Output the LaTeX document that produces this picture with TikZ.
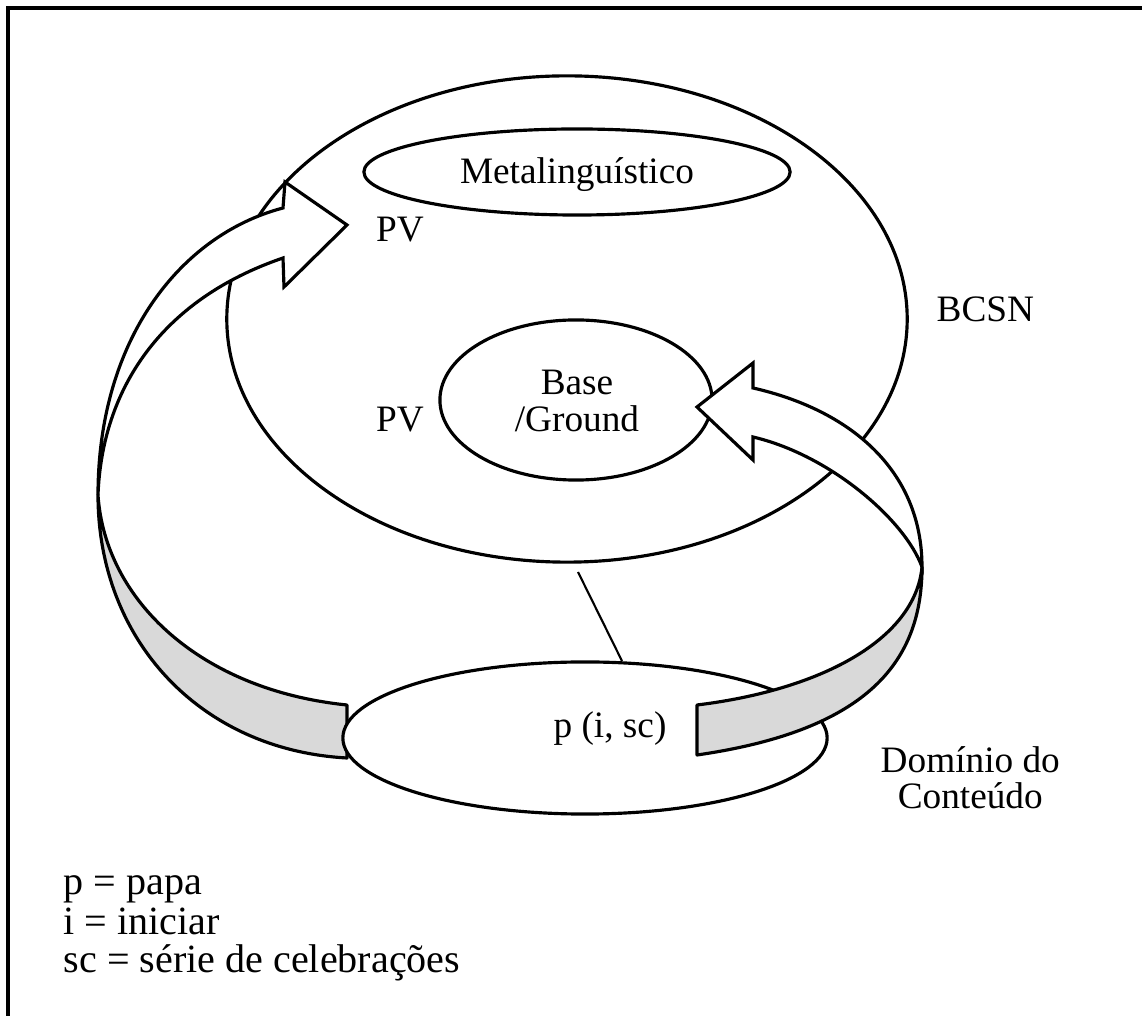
\documentclass[tikz,border=0pt]{standalone}
\usepackage{fontspec}
\setmainfont{Liberation Serif}
\usetikzlibrary{shapes.geometric}
\definecolor{ribbongray}{RGB}{217,217,217}
\begin{document}
\begin{tikzpicture}[x=0.01cm,y=-0.01cm,
  outline/.style={draw=black,line width=0.9pt},
  region/.style={ellipse,outline,fill=white,inner sep=0pt},
  lbl/.style={font=\fontsize{10.6}{11}\selectfont,inner sep=0pt,anchor=base},
  legend/.style={font=\fontsize{11.4}{12}\selectfont,inner sep=0pt,anchor=base west},
  ribbonback/.style={outline,fill=ribbongray,line join=round},
  ribbonfront/.style={outline,fill=white,line join=miter},
  link/.style={draw=black,line width=0.6pt}]
\useasboundingbox (0,0) rectangle (1142,1016);
\fill[white] (0,0) rectangle (1142,1016);
% frame (open to the right and below)
\draw[line width=0.9pt] (8,1030) -- (8,8) -- (1160,8);

% knowledge base with its two inner regions
\node[region, minimum width=6.80cm, minimum height=4.86cm] (bcsn) at (567,319) {};
\node[region, minimum width=4.26cm, minimum height=0.86cm] (meta) at (577,172) {};
\node[region, minimum width=2.72cm, minimum height=1.60cm] (base) at (576,400) {};

% back face of the left ribbon
\draw[ribbonback] (98,495) .. controls (98,640) and (200,750) .. (347,758)
  -- (347,705) .. controls (200,690) and (105,600) .. (98,495) -- cycle;

% content domain
\node[region, minimum width=4.84cm, minimum height=1.52cm] (dom) at (585,738) {};

% back face of the right ribbon
\draw[ribbonback] (922,567) .. controls (922,660) and (870,730) .. (697,755)
  -- (697,705) .. controls (820,690) and (915,640) .. (922,567) -- cycle;

% front face of the left ribbon, ending in an arrow head
\draw[ribbonfront] (98,495) .. controls (98,340) and (180,235) .. (283,208)
  -- (285,182) -- (347,225) -- (284,287) -- (283,258)
  .. controls (160,300) and (102,390) .. (98,495) -- cycle;

% front face of the right ribbon, ending in an arrow head
\draw[ribbonfront] (922,567) .. controls (922,470) and (850,410) .. (753,388)
  -- (753,363) -- (697,407) -- (753,460) -- (753,437)
  .. controls (830,455) and (905,520) .. (922,567) -- cycle;

% link between the base and the domain
\coordinate (linkTop) at (578,572);
\coordinate (linkEnd) at (622,661);
\draw[link] (linkTop) -- (linkEnd);

% labels
\node[lbl] (metaTxt) at (577,184) {Metalinguístico};
\node[lbl] (pvTop) at (400,242) {PV};
\node[lbl] (pvLow) at (400,432) {PV};
\node[lbl] (baseTxt) at (577,395) {Base};
\node[lbl] (groundTxt) at (577,432) {/Ground};
\node[lbl] (pTxt) at (610,738) {p (i, sc)};
\node[lbl, anchor=base west] (bcsnTxt) at (936,322) {BCSN};
\node[lbl, anchor=base west] (domTxt) at (880,773) {Domínio do};
\node[lbl] (contTxt) at (domTxt.base |- 0,809) {Conteúdo};

% legend
\node[legend] (legP) at (63,895) {p = papa};
\node[legend] (legI) at (63,935) {i = iniciar};
\node[legend] (legSC) at (63,973) {sc = série de celebrações};
\end{tikzpicture}
\end{document}
